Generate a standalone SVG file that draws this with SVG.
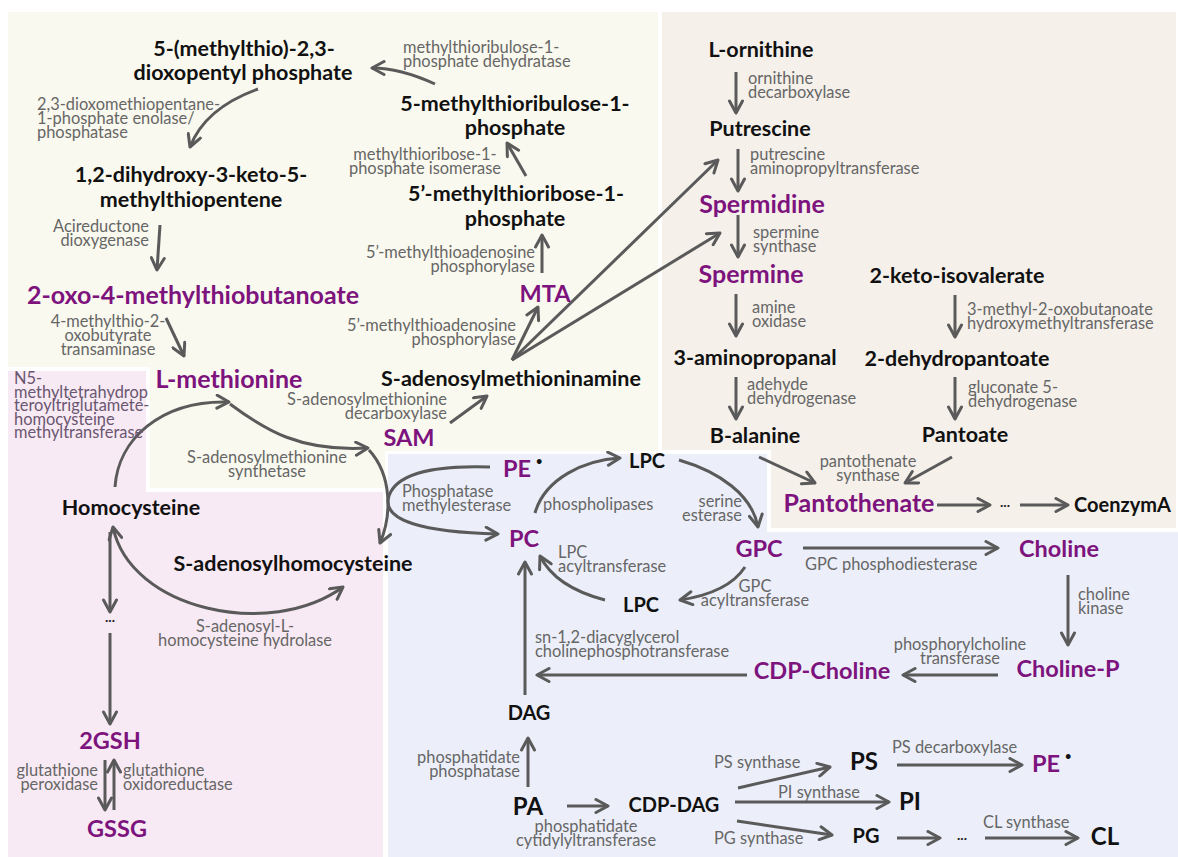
<svg xmlns="http://www.w3.org/2000/svg" width="1178" height="857" viewBox="0 0 1178 857">
  <style>
    .m { font-family: Lato, "Open Sans", sans-serif; font-weight: 700; font-size: 21.5px; fill: #111; text-anchor: middle; }
    .p { fill: #7d137d; font-size: 25px; }
    .s { font-size: 20px; }
    .ps { fill: #7d137d; font-size: 23.5px; }
    .big { font-size: 24px; }
    .e { font-family: Lato, "Open Sans", sans-serif; font-size: 16.4px; fill: #666; }
    .n5 { fill: #6a5670; }
    .st { text-anchor: start; }
    .en { text-anchor: end; }
    .mi { text-anchor: middle; }
    .a { fill: none; stroke: #5a5a5a; stroke-width: 3; marker-end: url(#ah); }
    .dots { font-family: Lato, sans-serif; font-weight: 700; font-size: 14px; fill: #222; text-anchor: middle; }
  </style>
  <defs>
    <marker id="ah" viewBox="0 0 16 16" refX="14" refY="8" markerWidth="16" markerHeight="16" markerUnits="userSpaceOnUse" orient="auto-start-reverse">
      <path d="M2,1.5 L14,8 L2,14.5" fill="none" stroke="#5a5a5a" stroke-width="3" stroke-linecap="round" stroke-linejoin="round"/>
    </marker>
  </defs>

  <!-- pathway areas -->
  <g id="areas">
    <rect x="0" y="0" width="1178" height="857" fill="#fff"/>
    <polygon points="8,12 658,12 658,451 385,451 385,488 150,488 150,367 8,367" fill="#faf9ef"/>
    <polygon points="662,12 1176,12 1176,528 771,528 771,450 662,450" fill="#f5f0ea"/>
    <polygon points="8,371 146,371 146,492 383,492 383,857 8,857" fill="#f8eaf4"/>
    <polygon points="388,454 767,454 767,532 1178,532 1178,857 388,857" fill="#eceff9"/>
  </g>

  <!-- connectors -->
  <g id="connectors">
    <path class="a" d="M435,84 Q400,68 372,68"/>
    <path class="a" d="M258,89 Q205,108 190,147"/>
    <path class="a" d="M160,225 L157,270"/>
    <path class="a" d="M166,318 L184,356"/>
    <path class="a" d="M526,176 L507,143"/>
    <path class="a" d="M542,273 L542,235"/>
    <path class="a" d="M512,360 L538,307"/>
    <path class="a" d="M450,423 L487,396"/>
    <path class="a" d="M512,360 L718,160"/>
    <path class="a" d="M512,360 L720,233"/>
    <path class="a" d="M115,487 C118,440 160,400 229,402"/>
    <path class="a" d="M230,404 C265,430 300,452 368,448"/>
    <path class="a" d="M369,450 C392,475 392,515 380,543"/>
    <path class="a" d="M113,527 C130,610 270,640 343,587" marker-start="url(#ah)"/>
    <path class="a" d="M110,532 L110,612"/>
    <path class="a" d="M110,633 L110,724"/>
    <path class="a" d="M105,760 L105,810"/>
    <path class="a" d="M114,810 L114,760"/>
    <path class="a" d="M490,467 C430,465 392,475 388,500 C386,520 420,532 498,534"/>
    <path class="a" d="M535,513 C545,478 585,460 620,458"/>
    <path class="a" d="M679,460 C720,472 752,495 758,527"/>
    <path class="a" d="M745,567 C730,590 700,597 680,600"/>
    <path class="a" d="M605,600 C578,593 552,580 540,556"/>
    <path class="a" d="M525,695 L525,562"/>
    <path class="a" d="M747,675 L537,675"/>
    <path class="a" d="M998,675 L903,675"/>
    <path class="a" d="M1068,575 L1068,645"/>
    <path class="a" d="M803,548 L998,548"/>
    <path class="a" d="M528,787 L528,738"/>
    <path class="a" d="M567,806 L608,806"/>
    <path class="a" d="M738,788 L830,767"/>
    <path class="a" d="M735,802 L889,802"/>
    <path class="a" d="M737,821 L832,835"/>
    <path class="a" d="M897,765 L1022,765"/>
    <path class="a" d="M897,838 L940,838"/>
    <path class="a" d="M985,838 L1078,838"/>
    <path class="a" d="M736,72 L736,113"/>
    <path class="a" d="M738,149 L738,191"/>
    <path class="a" d="M738,215 L738,257"/>
    <path class="a" d="M736,294 L736,336"/>
    <path class="a" d="M736,377 L736,419"/>
    <path class="a" d="M955,295 L955,337"/>
    <path class="a" d="M955,377 L955,419"/>
    <path class="a" d="M759,457 L815,483"/>
    <path class="a" d="M952,457 L905,483"/>
    <path class="a" d="M937,505 L990,505"/>
    <path class="a" d="M1020,505 L1068,505"/>
  </g>

  <!-- enzyme labels -->
  <g id="enzymes">
    <text class="e st" x="403" y="52.5">methylthioribulose-1-<tspan x="403" dy="14">phosphate dehydratase</tspan></text>
    <text class="e st" x="37" y="110">2,3-dioxomethiopentane-<tspan x="37" dy="14">1-phosphate enolase/</tspan><tspan x="37" dy="14">phosphatase</tspan></text>
    <text class="e mi" x="425" y="159.5">methylthioribose-1-<tspan x="425" dy="14">phosphate isomerase</tspan></text>
    <text class="e en" x="535" y="257.5">5’-methylthioadenosine<tspan x="535" dy="14">phosphorylase</tspan></text>
    <text class="e en" x="149" y="231.5">Acireductone<tspan x="149" dy="14">dioxygenase</tspan></text>
    <text class="e mi" x="108" y="327">4-methylthio-2-<tspan x="108" dy="14">oxobutyrate</tspan><tspan x="108" dy="14">transaminase</tspan></text>
    <text class="e en" x="516" y="330.5">5’-methylthioadenosine<tspan x="516" dy="14">phosphorylase</tspan></text>
    <text class="e en" x="447" y="404.5">S-adenosylmethionine<tspan x="447" dy="14">decarboxylase</tspan></text>
    <text class="e n5 st" x="14" y="384">N5-<tspan x="14" dy="13.5">methyltetrahydrop</tspan><tspan x="14" dy="13.5">teroyltriglutamete-</tspan><tspan x="14" dy="13.5">homocysteine</tspan><tspan x="14" dy="13.5">methyltransferase</tspan></text>
    <text class="e mi" x="267" y="463">S-adenosylmethionine<tspan x="267" dy="14">synthetase</tspan></text>
    <text class="e mi" x="245" y="632">S-adenosyl-L-<tspan x="245" dy="14">homocysteine hydrolase</tspan></text>
    <text class="e en" x="98" y="776">glutathione<tspan x="98" dy="14">peroxidase</tspan></text>
    <text class="e st" x="123" y="776">glutathione<tspan x="123" dy="14">oxidoreductase</tspan></text>
    <text class="e st" x="402" y="496.5">Phosphatase<tspan x="402" dy="14">methylesterase</tspan></text>
    <text class="e st" x="543" y="510">phospholipases</text>
    <text class="e en" x="742" y="506.5">serine<tspan x="742" dy="14">esterase</tspan></text>
    <text class="e st" x="558" y="558">LPC<tspan x="558" dy="14">acyltransferase</tspan></text>
    <text class="e mi" x="755" y="591.5">GPC<tspan x="755" dy="14">acyltransferase</tspan></text>
    <text class="e st" x="805" y="570">GPC phosphodiesterase</text>
    <text class="e st" x="1078" y="599.5">choline<tspan x="1078" dy="14">kinase</tspan></text>
    <text class="e mi" x="960" y="649.5">phosphorylcholine<tspan x="960" dy="14">transferase</tspan></text>
    <text class="e st" x="535" y="643">sn-1,2-diacyglycerol<tspan x="535" dy="14">cholinephosphotransferase</tspan></text>
    <text class="e en" x="520" y="763">phosphatidate<tspan x="520" dy="14">phosphatase</tspan></text>
    <text class="e mi" x="586" y="831.5">phosphatidate<tspan x="586" dy="14">cytidylyltransferase</tspan></text>
    <text class="e st" x="714" y="768">PS synthase</text>
    <text class="e st" x="778" y="798">PI synthase</text>
    <text class="e st" x="714" y="844">PG synthase</text>
    <text class="e st" x="892" y="753">PS decarboxylase</text>
    <text class="e st" x="983" y="828">CL synthase</text>
    <text class="e st" x="748" y="83.5">ornithine<tspan x="748" dy="14">decarboxylase</tspan></text>
    <text class="e st" x="750" y="159.5">putrescine<tspan x="750" dy="14">aminopropyltransferase</tspan></text>
    <text class="e st" x="753" y="237.5">spermine<tspan x="753" dy="14">synthase</tspan></text>
    <text class="e st" x="752" y="313">amine<tspan x="752" dy="14">oxidase</tspan></text>
    <text class="e st" x="747" y="389.5">adehyde<tspan x="747" dy="14">dehydrogenase</tspan></text>
    <text class="e st" x="967" y="314.5">3-methyl-2-oxobutanoate<tspan x="967" dy="14">hydroxymethyltransferase</tspan></text>
    <text class="e st" x="968" y="392.5">gluconate 5-<tspan x="968" dy="14">dehydrogenase</tspan></text>
    <text class="e mi" x="868" y="467">pantothenate<tspan x="868" dy="14">synthase</tspan></text>
  </g>

  <!-- methionine salvage cycle -->
  <g id="n-mtdp"><text class="m" x="244" y="56">5-(methylthio)-2,3-</text><text class="m" x="243" y="80">dioxopentyl phosphate</text></g>
  <g id="n-mtrup"><text class="m" x="515" y="111">5-methylthioribulose-1-</text><text class="m" x="515" y="135">phosphate</text></g>
  <g id="n-mtrp"><text class="m" x="516" y="201">5’-methylthioribose-1-</text><text class="m" x="515" y="226">phosphate</text></g>
  <g id="n-dhk"><text class="m" x="191" y="182">1,2-dihydroxy-3-keto-5-</text><text class="m" x="191" y="207">methylthiopentene</text></g>
  <g id="n-kmtb"><text class="m p" x="193" y="304">2-oxo-4-methylthiobutanoate</text></g>
  <g id="n-met"><text class="m p" x="229" y="388">L-methionine</text></g>
  <g id="n-mta"><text class="m ps" x="545" y="302">MTA</text></g>
  <g id="n-dcsam"><text class="m" x="511" y="386">S-adenosylmethioninamine</text></g>
  <g id="n-sam"><text class="m ps" x="409" y="446">SAM</text></g>
  <g id="n-hcy"><text class="m" x="131" y="515">Homocysteine</text></g>
  <g id="n-sah"><text class="m" x="293" y="571">S-adenosylhomocysteine</text></g>
  <g id="n-dots1"><text class="dots" x="110" y="622">...</text></g>
  <g id="n-gsh"><text class="m ps" x="110" y="749">2GSH</text></g>
  <g id="n-gssg"><text class="m ps" x="117" y="837">GSSG</text></g>

  <!-- polyamines and pantothenate -->
  <g id="n-orn"><text class="m" x="761" y="57">L-ornithine</text></g>
  <g id="n-put"><text class="m" x="760" y="136">Putrescine</text></g>
  <g id="n-spd"><text class="m p" x="762" y="213">Spermidine</text></g>
  <g id="n-spm"><text class="m p" x="751" y="283">Spermine</text></g>
  <g id="n-kiv"><text class="m" x="957" y="283">2-keto-isovalerate</text></g>
  <g id="n-apal"><text class="m" x="755" y="365">3-aminopropanal</text></g>
  <g id="n-dhp"><text class="m" x="957" y="366">2-dehydropantoate</text></g>
  <g id="n-bala"><text class="m" x="755" y="443">B-alanine</text></g>
  <g id="n-pant"><text class="m" x="965" y="442">Pantoate</text></g>
  <g id="n-pan"><text class="m p" x="859" y="512">Pantothenate</text></g>
  <g id="n-dots2"><text class="dots" x="1005" y="507">...</text></g>
  <g id="n-coa"><text class="m s st" x="1074" y="512">CoenzymA</text></g>

  <!-- phospholipids -->
  <g id="n-pe1"><text class="m ps st" x="503" y="477">PE<tspan font-size="11" dx="5" dy="-12" fill="#111">•</tspan></text></g>
  <g id="n-lpc1"><text class="m s" x="647" y="468">LPC</text></g>
  <g id="n-pc"><text class="m ps" x="524" y="547">PC</text></g>
  <g id="n-gpc"><text class="m ps" x="759" y="557">GPC</text></g>
  <g id="n-lpc2"><text class="m s" x="641" y="612">LPC</text></g>
  <g id="n-cho"><text class="m ps" x="1059" y="557">Choline</text></g>
  <g id="n-chop"><text class="m ps" x="1068" y="677">Choline-P</text></g>
  <g id="n-cdpcho"><text class="m ps" x="822" y="679">CDP-Choline</text></g>
  <g id="n-dag"><text class="m s" x="529" y="720">DAG</text></g>
  <g id="n-pa"><text class="m big" x="528" y="815">PA</text></g>
  <g id="n-cdpdag"><text class="m s" x="674" y="812">CDP-DAG</text></g>
  <g id="n-ps"><text class="m big" x="864" y="770">PS</text></g>
  <g id="n-pe2"><text class="m ps st" x="1032" y="772">PE<tspan font-size="11" dx="5" dy="-12" fill="#111">•</tspan></text></g>
  <g id="n-pi"><text class="m big" x="910" y="810">PI</text></g>
  <g id="n-pg"><text class="m s" x="866" y="843">PG</text></g>
  <g id="n-dots3"><text class="dots" x="962" y="840">...</text></g>
  <g id="n-cl"><text class="m big" x="1105" y="845">CL</text></g>
</svg>
